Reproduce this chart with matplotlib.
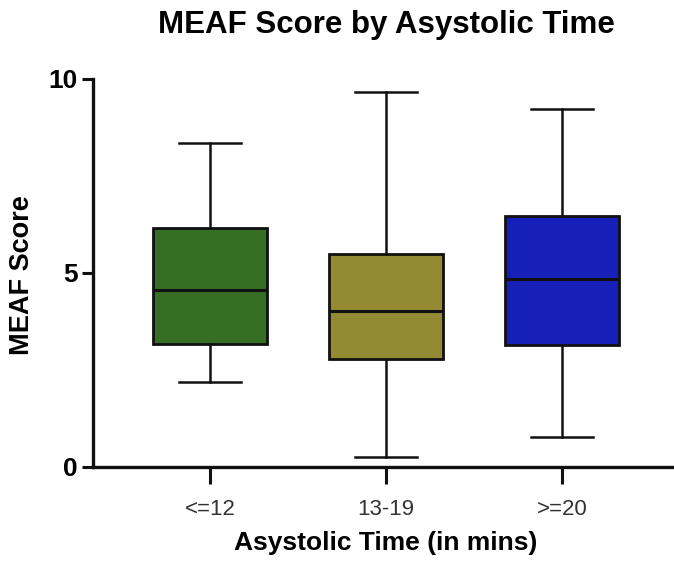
import matplotlib
matplotlib.use("Agg")
import matplotlib.pyplot as plt

plt.rcParams['font.family'] = ['Liberation Sans', 'DejaVu Sans']

# Asystolic time groups and box summary values (MEAF score)
groups = ['<=12', '13-19', '>=20']
whisker_low = [2.19, 0.26, 0.77]
q1 = [3.17, 2.78, 3.14]
median = [4.56, 4.02, 4.85]
q3 = [6.17, 5.49, 6.47]
whisker_high = [8.36, 9.66, 9.22]
colors = ['#356e24', '#938a33', '#1620b8']

stats = []
for i, g in enumerate(groups):
    stats.append(dict(label=g, whislo=whisker_low[i], q1=q1[i], med=median[i],
                      q3=q3[i], whishi=whisker_high[i], fliers=[]))

fig = plt.figure(figsize=(6.74, 5.61), dpi=100)
ax = fig.add_axes([93/674, 1 - 467/561, 1 - 93/674, (467 - 79)/561])

positions = list(range(len(groups)))
bp = ax.bxp(stats, positions=positions, widths=0.65, capwidths=0.35,
            patch_artist=True, showfliers=False,
            boxprops=dict(linewidth=2.0, edgecolor='#111111'),
            medianprops=dict(color='#111111', linewidth=2.2),
            whiskerprops=dict(color='#111111', linewidth=1.8),
            capprops=dict(color='#111111', linewidth=1.8))
for patch, c in zip(bp['boxes'], colors):
    patch.set_facecolor(c)

ax.set_xlim(-0.665, 2.636)
ax.set_ylim(0, 10)
ax.set_yticks([0, 5, 10])
ax.set_xticks(positions)
ax.set_xticklabels(groups)

for side in ['top', 'right']:
    ax.spines[side].set_visible(False)
for side in ['left', 'bottom']:
    ax.spines[side].set_linewidth(2.4)
    ax.spines[side].set_color('#111111')

ax.tick_params(axis='y', length=8, width=2.2, color='#111111', pad=3,
               labelsize=19)
ax.tick_params(axis='x', length=12, width=2.2, color='#111111', pad=11,
               labelsize=16, labelcolor='#333333')
for lab in ax.get_yticklabels():
    lab.set_fontweight('bold')

ax.set_xlabel('Asystolic Time (in mins)', fontsize=19, fontweight='bold', va='center')
ax.xaxis.set_label_coords(0.504, -0.196)
ax.set_ylabel('MEAF Score', fontsize=19.5, fontweight='bold', va='center')
ax.yaxis.set_label_coords(-0.122, 0.495)

fig.text(386/674, 1 - 25/561, 'MEAF Score by Asystolic Time', ha='center', va='center',
         fontsize=22.5, fontweight='bold')

fig.savefig('out.png', dpi=100)
